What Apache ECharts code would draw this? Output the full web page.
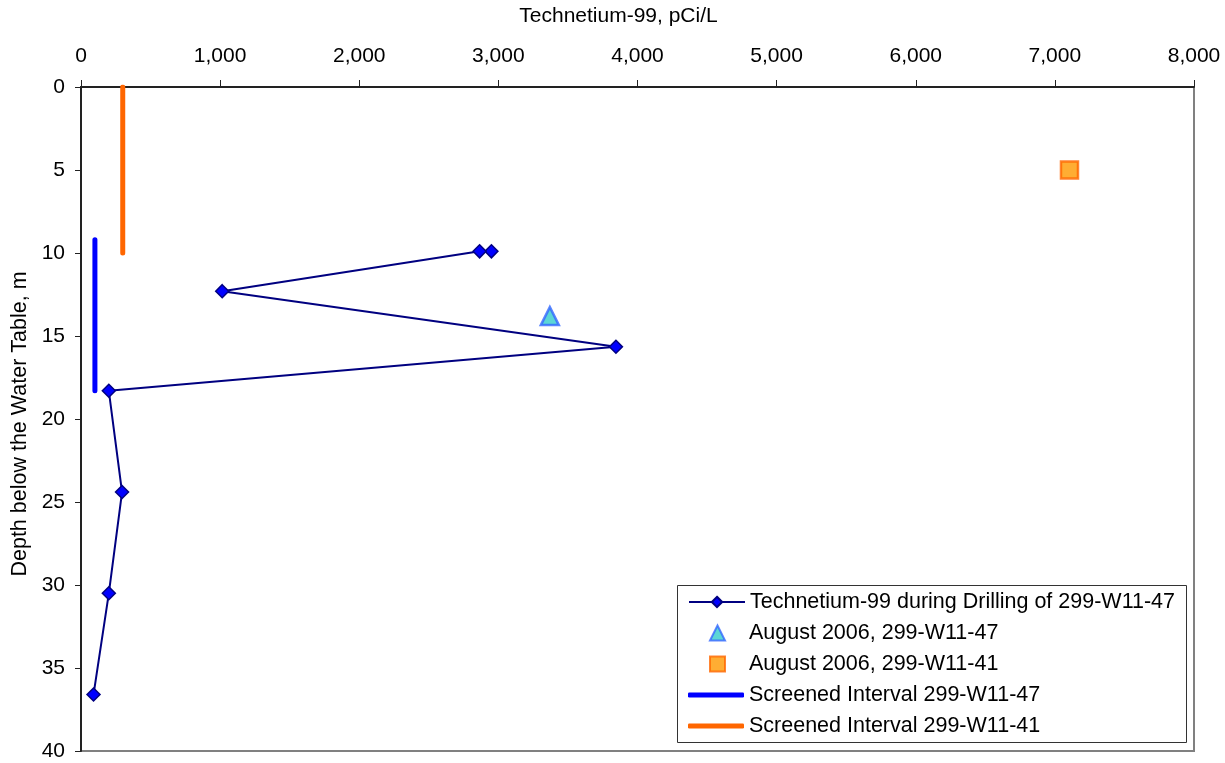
<!DOCTYPE html>
<html>
<head>
<meta charset="utf-8">
<script src="https://cdn.jsdelivr.net/npm/echarts@6/dist/echarts.min.js"></script>
<style>
html,body{margin:0;padding:0;background:#fff;}
#chart{width:1225px;height:763px;}
</style>
</head>
<body>
<div id="chart"></div>
<script>
// Data (Technetium-99 pCi/L, depth m)
const drillingTc = [2950, 2865, 1015, 3845, 200, 295, 200, 90];
const drillingDepth = [9.9, 9.9, 12.3, 15.65, 18.3, 24.4, 30.5, 36.6];
const aug47 = [[3370, 13.8]];
const aug41 = [[7105, 5.0]];
const screen47 = [[100, 9.2], [100, 18.3]];
const screen41 = [[300, 0], [300, 10.0]];
const seriesNames = [
  'Technetium-99 during Drilling of 299-W11-47',
  'August 2006, 299-W11-47',
  'August 2006, 299-W11-41',
  'Screened Interval 299-W11-47',
  'Screened Interval 299-W11-41'
];
const xTitle = 'Technetium-99, pCi/L';
const yTitle = 'Depth below the Water Table, m';

const FONT = '"Liberation Sans", Arial, sans-serif';
const chart = echarts.init(document.getElementById('chart'), null, {renderer: 'canvas'});
const drillingData = drillingTc.map((v, i) => [v, drillingDepth[i]]);
const legendText = {fontSize: 21.5, fontFamily: FONT, color: '#000', lineHeight: 22};

chart.setOption({
  animation: false,
  backgroundColor: '#fff',
  textStyle: {fontFamily: FONT, color: '#000'},
  grid: {left: 81, top: 87, width: 1113, height: 664, show: true,
         containLabel: false, outerBoundsMode: 'none',
         borderColor: '#808080', borderWidth: 2, backgroundColor: 'transparent'},
  xAxis: {
    type: 'value', position: 'top', min: 0, max: 8000, interval: 1000,
    name: xTitle, nameLocation: 'middle', nameGap: 60,
    nameTextStyle: {fontSize: 21, fontFamily: FONT, color: '#000', padding: [0, 38, 0, 0]},
    axisLine: {show: true, onZero: false, lineStyle: {color: '#222', width: 2}},
    axisTick: {show: true, inside: false, length: 7, lineStyle: {color: '#222', width: 1}},
    axisLabel: {fontSize: 21, fontFamily: FONT, color: '#000', margin: 20,
      formatter: v => v.toLocaleString('en-US')},
    splitLine: {show: false}
  },
  yAxis: {
    type: 'value', inverse: true, min: 0, max: 40, interval: 5,
    name: yTitle, nameLocation: 'middle', nameGap: 49, nameRotate: 90,
    nameTextStyle: {fontSize: 21.5, fontFamily: FONT, color: '#000', padding: [0, 10, 0, 0]},
    axisLine: {show: true, onZero: false, lineStyle: {color: '#222', width: 2}},
    axisTick: {show: true, inside: false, length: 6, lineStyle: {color: '#222', width: 1}},
    axisLabel: {fontSize: 21, fontFamily: FONT, color: '#000', margin: 16},
    splitLine: {show: false}
  },
  legend: [
    {
      orient: 'vertical', left: 688, top: 591, padding: 0,
      data: [seriesNames[0]],
      itemWidth: 56, itemHeight: 13, itemGap: 9,
      textStyle: legendText
    },
    {
      orient: 'vertical', left: 709, top: 622, padding: 0,
      data: [{name: seriesNames[1], icon: 'triangle'}, {name: seriesNames[2], icon: 'rect'}],
      itemWidth: 15, itemHeight: 15, itemGap: 9,
      textStyle: Object.assign({}, legendText, {padding: [0, 0, 0, 19]})
    },
    {
      orient: 'vertical', left: 688, top: 684, padding: 0,
      data: [{name: seriesNames[3], icon: 'roundRect'}, {name: seriesNames[4], icon: 'roundRect'}],
      itemWidth: 56, itemHeight: 5, itemGap: 9,
      textStyle: legendText
    }
  ],
  graphic: [{
    type: 'rect', left: 677, top: 585, z: 0,
    shape: {width: 509, height: 157},
    style: {fill: '#fff', stroke: '#333', lineWidth: 1}
  }],
  series: [
    {
      name: seriesNames[0], type: 'line', data: drillingData,
      symbol: 'diamond', symbolSize: 13, z: 5,
      lineStyle: {color: '#000080', width: 2},
      itemStyle: {color: '#0000FF', borderColor: '#000080', borderWidth: 1.5}
    },
    {
      name: seriesNames[1], type: 'scatter', data: aug47,
      symbol: 'triangle', symbolSize: 18, z: 5,
      itemStyle: {color: '#33CCCC', borderColor: '#3366FF', borderWidth: 2.5}
    },
    {
      name: seriesNames[2], type: 'scatter', data: aug41,
      symbol: 'rect', symbolSize: 17, z: 5,
      itemStyle: {color: '#FF9900', borderColor: '#FF6600', borderWidth: 2.5}
    },
    {
      name: seriesNames[3], type: 'line', data: screen47,
      symbol: 'none', showSymbol: false, z: 4,
      lineStyle: {color: '#0000FF', width: 5, cap: 'round'},
      itemStyle: {color: '#0000FF'}
    },
    {
      name: seriesNames[4], type: 'line', data: screen41,
      symbol: 'none', showSymbol: false, z: 4,
      lineStyle: {color: '#FF6600', width: 5, cap: 'round'},
      itemStyle: {color: '#FF6600'}
    }
  ]
});
</script>
</body>
</html>
